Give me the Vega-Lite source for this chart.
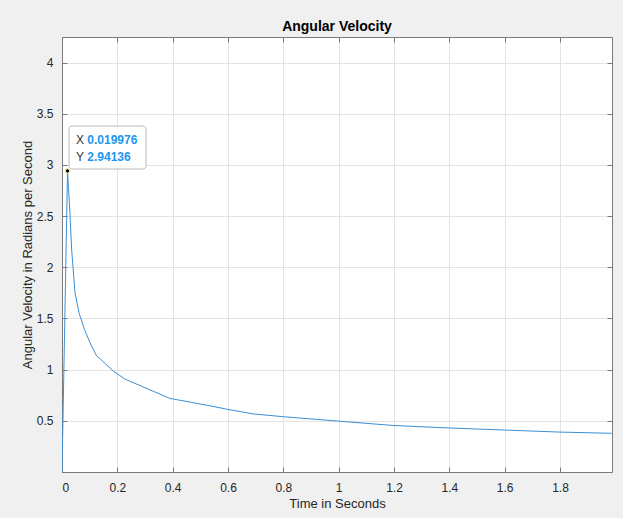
{
  "$schema": "https://vega.github.io/schema/vega-lite/v6.json",
  "autosize": "none",
  "width": 550,
  "height": 435,
  "padding": {"left": 62, "top": 37, "right": 11, "bottom": 46},
  "background": "#f0f0f0",
  "title": {"text": "Angular Velocity", "fontSize": 14, "fontWeight": "bold", "font": "Liberation Sans", "color": "#000000", "offset": 3, "anchor": "middle"},
  "config": {
    "view": {"fill": "#ffffff", "stroke": null},
    "axis": {"labelFont": "Liberation Sans", "titleFont": "Liberation Sans", "labelFontSize": 12, "titleFontSize": 13, "titleFontWeight": "normal", "labelColor": "#262626", "titleColor": "#262626", "domainColor": "#7a7a7a", "tickColor": "#7a7a7a", "gridColor": "#e3e3e3", "gridOpacity": 1, "tickSize": -5, "labelPadding": 13, "domainWidth": 1}
  },
  "datasets": {
    "curve": [
      {"t": 0, "w": 0},
      {"t": 0.019976, "w": 2.94136},
      {"t": 0.028, "w": 2.56},
      {"t": 0.035, "w": 2.17},
      {"t": 0.047, "w": 1.75},
      {"t": 0.062, "w": 1.55},
      {"t": 0.081, "w": 1.394},
      {"t": 0.1, "w": 1.27},
      {"t": 0.125, "w": 1.134},
      {"t": 0.137, "w": 1.108},
      {"t": 0.185, "w": 0.987},
      {"t": 0.228, "w": 0.907},
      {"t": 0.39, "w": 0.719},
      {"t": 0.523, "w": 0.653},
      {"t": 0.595, "w": 0.614},
      {"t": 0.69, "w": 0.568},
      {"t": 0.8, "w": 0.54},
      {"t": 1.0, "w": 0.497},
      {"t": 1.2, "w": 0.454},
      {"t": 1.4, "w": 0.43},
      {"t": 1.6, "w": 0.41},
      {"t": 1.8, "w": 0.39},
      {"t": 1.987, "w": 0.378}
    ],
    "tip": [{"t": 0.019976, "w": 2.94136}],
    "box": [{"x1": 0.0253, "x2": 0.3036, "y1": 2.96, "y2": 3.38}],
    "labels": [
      {"lx": 0.0506, "vx": 0.0915, "y": 3.243, "k": "X", "v": "0.019976"},
      {"lx": 0.0506, "vx": 0.0915, "y": 3.081, "k": "Y", "v": "2.94136"}
    ]
  },
  "layer": [
    {
      "data": {"name": "curve"},
      "mark": {"type": "line", "color": "#3b8fd4", "strokeWidth": 1, "clip": true},
      "encoding": {
        "x": {"field": "t", "type": "quantitative", "scale": {"domain": [0, 1.988], "nice": false, "zero": false},
              "axis": {"title": "Time in Seconds", "values": [0, 0.2, 0.4, 0.6, 0.8, 1, 1.2, 1.4, 1.6, 1.8], "format": "~g", "titlePadding": 4, "labelPadding": 15}},
        "y": {"field": "w", "type": "quantitative", "scale": {"domain": [0, 4.25], "nice": false, "zero": false},
              "axis": {"title": "Angular Velocity in Radians per Second", "values": [0.5, 1, 1.5, 2, 2.5, 3, 3.5, 4], "format": "~g", "titlePadding": 2, "labelPadding": 14}}
      }
    },
    {
      "data": {"name": "curve"},
      "mark": {"type": "line", "opacity": 0},
      "encoding": {
        "x": {"field": "t", "type": "quantitative", "axis": {"orient": "top", "labels": false, "title": null, "grid": false, "values": [0, 0.2, 0.4, 0.6, 0.8, 1, 1.2, 1.4, 1.6, 1.8]}},
        "y": {"field": "w", "type": "quantitative", "axis": {"orient": "right", "labels": false, "title": null, "grid": false, "values": [0.5, 1, 1.5, 2, 2.5, 3, 3.5, 4]}}
      }
    },
    {
      "data": {"name": "box"},
      "mark": {"type": "rect", "fill": "#ffffff", "fillOpacity": 0.95, "stroke": "#b8b8b8", "strokeWidth": 1, "cornerRadius": 3},
      "encoding": {
        "x": {"field": "x1", "type": "quantitative", "axis": null},
        "x2": {"field": "x2"},
        "y": {"field": "y1", "type": "quantitative", "axis": null},
        "y2": {"field": "y2"}
      }
    },
    {
      "data": {"name": "labels"},
      "mark": {"type": "text", "align": "left", "baseline": "middle", "font": "Liberation Sans", "fontSize": 12, "color": "#333333"},
      "encoding": {
        "x": {"field": "lx", "type": "quantitative", "axis": null},
        "y": {"field": "y", "type": "quantitative", "axis": null},
        "text": {"field": "k"}
      }
    },
    {
      "data": {"name": "labels"},
      "mark": {"type": "text", "align": "left", "baseline": "middle", "font": "Liberation Sans", "fontSize": 12, "fontWeight": "bold", "color": "#1a96f0"},
      "encoding": {
        "x": {"field": "vx", "type": "quantitative", "axis": null},
        "y": {"field": "y", "type": "quantitative", "axis": null},
        "text": {"field": "v"}
      }
    },
    {
      "data": {"name": "tip"},
      "mark": {"type": "point", "filled": true, "color": "#000000", "size": 18, "stroke": "#f5e67a", "strokeWidth": 1, "opacity": 1},
      "encoding": {
        "x": {"field": "t", "type": "quantitative", "axis": null},
        "y": {"field": "w", "type": "quantitative", "axis": null}
      }
    }
  ],
  "resolve": {"axis": {"x": "independent", "y": "independent"}}
}
